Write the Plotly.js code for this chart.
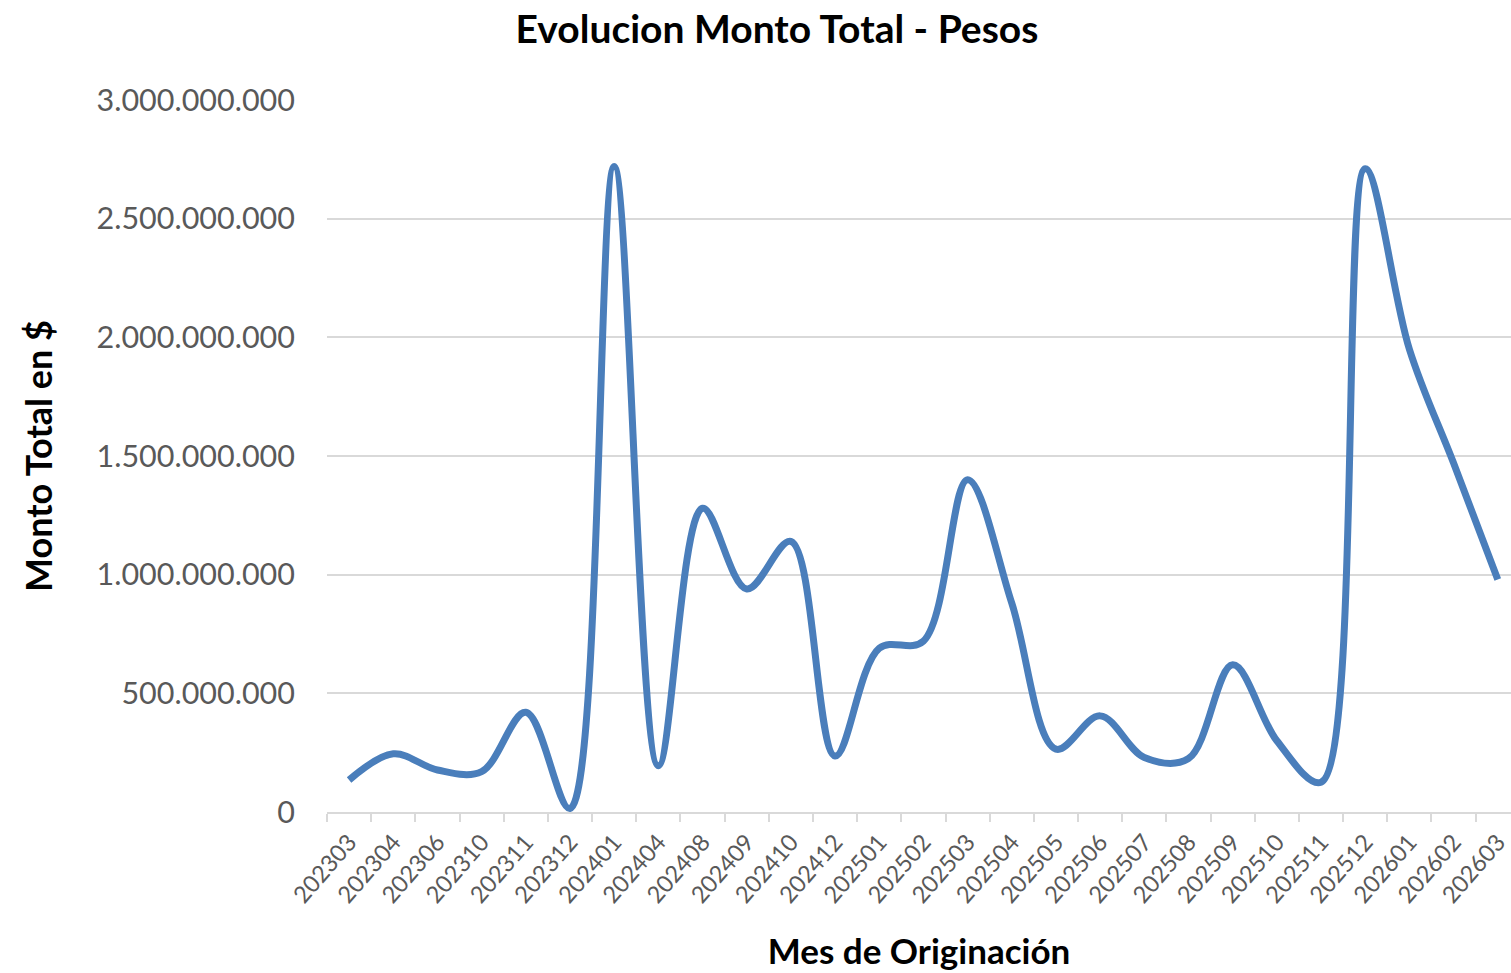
<!DOCTYPE html>
<html>
<head>
<meta charset="utf-8">
<script src="https://cdn.plot.ly/plotly-3.0.1.min.js"></script>
<style>
html, body { margin: 0; padding: 0; background: #fff; overflow: hidden; }
#chart { width: 1511px; height: 973px; }
</style>
</head>
<body>
<div id="chart"></div>
<script>
const meses = ['202303','202304','202306','202310','202311','202312','202401','202404','202408','202409','202410','202412','202501','202502','202503','202504','202505','202506','202507','202508','202509','202510','202511','202512','202601','202602','202603'];
const montoTotal = [135e6, 245e6, 177e6, 170e6, 420e6, 15e6, 2720e6, 195e6, 1280e6, 940e6, 1140e6, 236e6, 690e6, 720e6, 1400e6, 880e6, 265e6, 405e6, 230e6, 225e6, 620e6, 300e6, 125e6, 2710e6, 1950e6, 1470e6, 980e6];
const yTicks = [0, 500e6, 1000e6, 1500e6, 2000e6, 2500e6, 3000e6];

const trace = {
  x: meses,
  y: montoTotal,
  type: 'scatter',
  mode: 'lines',
  line: { color: '#4a7ebb', width: 7, shape: 'spline', smoothing: 1 },
  hoverinfo: 'x+y'
};

const layout = {
  width: 1511,
  height: 973,
  margin: { l: 327, r: 0, t: 100, b: 161, pad: 0 },
  paper_bgcolor: '#ffffff',
  plot_bgcolor: '#ffffff',
  separators: ',.',
  showlegend: false,
  font: { family: 'Lato, "Open Sans", sans-serif', color: '#595959' },
  title: {
    text: '<b>Evolucion Monto Total - Pesos</b>',
    font: { family: 'Lato, sans-serif', size: 39, color: '#000000' },
    xref: 'container', x: 777 / 1511,
    yref: 'container', y: 1 - 29 / 973, yanchor: 'middle', xanchor: 'center'
  },
  xaxis: {
    type: 'category',
    range: [-0.5, 26.3],
    tickson: 'boundaries',
    ticks: 'outside',
    ticklen: 8,
    tickwidth: 2,
    tickcolor: '#d9d9d9',
    showline: true,
    linecolor: '#d9d9d9',
    linewidth: 2,
    showgrid: false,
    zeroline: false,
    tickangle: -49,
    ticklabelstandoff: 5,
    tickfont: { family: 'Lato, sans-serif', size: 23.5, color: '#595959' },
    title: {
      text: '<b>Mes de Originación</b>',
      font: { family: 'Lato, sans-serif', size: 35, color: '#000000' },
      standoff: 32
    },
    fixedrange: true
  },
  yaxis: {
    range: [0, 3000e6],
    tickvals: yTicks,
    tickformat: ',.0f',
    showgrid: true,
    gridcolor: '#d9d9d9',
    gridwidth: 2,
    zeroline: false,
    showline: false,
    ticks: '',
    ticklabelstandoff: 31,
    tickfont: { family: 'Lato, sans-serif', size: 30.5, color: '#595959' },
    title: {
      text: '<b>Monto Total en $</b>',
      font: { family: 'Lato, sans-serif', size: 36, color: '#000000' },
      standoff: 32
    },
    fixedrange: true
  }
};

Plotly.newPlot('chart', [trace], layout, { displayModeBar: false, staticPlot: false });
</script>
</body>
</html>
